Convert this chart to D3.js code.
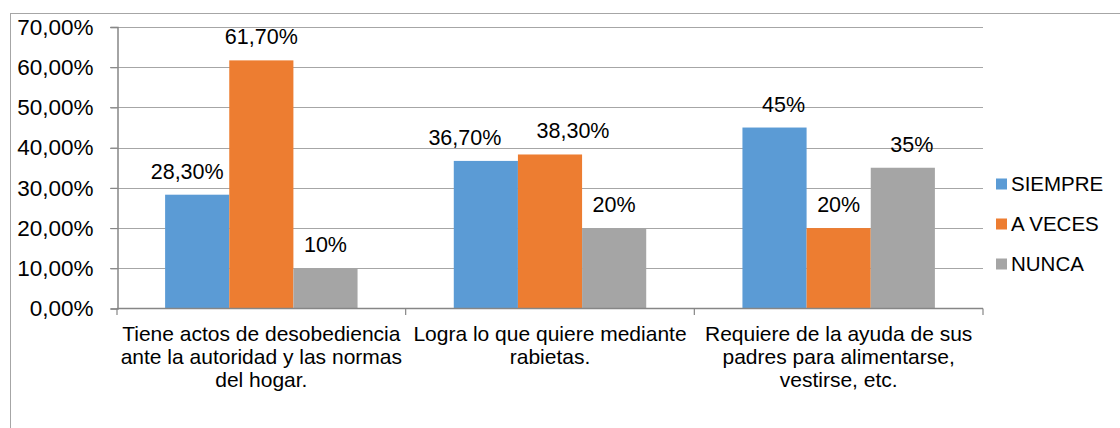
<!DOCTYPE html>
<html>
<head>
<meta charset="utf-8">
<script src="https://d3js.org/d3.v7.min.js"></script>
<style>
  body { margin: 0; background: #fff; }
  text { font-family: Arial, "Liberation Sans", sans-serif; fill: #000; }
</style>
</head>
<body>
<div id="chart"></div>
<script>
(function() {
  var width = 1120, height = 428;

  // datos
  var categorias = [
    ["Tiene actos de desobediencia", "ante la autoridad y las normas", "del hogar."],
    ["Logra lo que quiere mediante", "rabietas."],
    ["Requiere de la ayuda de sus", "padres para alimentarse,", "vestirse, etc."]
  ];
  var series = ["SIEMPRE", "A VECES", "NUNCA"];
  var siempre = [28.3, 36.7, 45];
  var aveces = [61.7, 38.3, 20];
  var nunca = [10, 20, 35];
  var etiquetas = [
    ["28,30%", "36,70%", "45%"],
    ["61,70%", "38,30%", "20%"],
    ["10%", "20%", "35%"]
  ];
  var ticksY = [0, 10, 20, 30, 40, 50, 60, 70];
  var colores = ["#5B9BD5", "#ED7D31", "#A5A5A5"];

  var valores = [siempre, aveces, nunca];

  // etiquetas que el original desplaza para que no se pisen
  var empuje = [[-10, -21, 9], [0, 23, 0], [0, 0, 9]];

  var svg = d3.select("#chart").append("svg")
              .attr("width", width)
              .attr("height", height);

  // borde del grafico
  svg.append("rect")
     .attr("x", 10.5).attr("y", 13.5)
     .attr("width", 1120).attr("height", 500)
     .attr("fill", "none")
     .attr("stroke", "#A6A6A6");

  var x0 = d3.scaleBand().domain(d3.range(categorias.length)).range([117, 983]);
  var x1 = d3.scaleBand().domain(d3.range(series.length))
             .range([0, x0.bandwidth()]).paddingOuter(0.75).paddingInner(0);
  var y = d3.scaleLinear().domain([0, 70]).range([308.5, 27]);

  // lineas de division
  svg.append("g").selectAll("line")
     .data(ticksY.slice(1))
     .enter().append("line")
     .attr("x1", 110).attr("x2", 983)
     .attr("y1", function(d){ return Math.round(y(d)) + 0.5; })
     .attr("y2", function(d){ return Math.round(y(d)) + 0.5; })
     .attr("stroke", "#A6A6A6").attr("stroke-width", 1.2);

  // eje Y
  var ejeY = svg.append("g").attr("transform", "translate(117.5,0)")
     .call(d3.axisLeft(y).tickValues(ticksY).tickSize(7).tickPadding(17)
       .tickFormat(function(d){ return d3.format(".2f")(d).replace(".", ",") + "%"; }));
  ejeY.select(".domain").attr("stroke", "#868686").attr("stroke-width", 1.5);
  ejeY.selectAll(".tick line").attr("stroke", "#868686").attr("stroke-width", 1.2);
  ejeY.selectAll(".tick text").style("font-size", "22.5px").attr("fill", "#000");

  // barras
  var grupos = svg.append("g").selectAll("g")
     .data(valores)
     .enter().append("g")
     .attr("fill", function(d, i){ return colores[i]; });

  grupos.each(function(serie, si) {
    d3.select(this).selectAll("rect")
      .data(serie)
      .enter().append("rect")
      .attr("x", function(d, ci){ return x0(ci) + x1(si); })
      .attr("width", x1.bandwidth())
      .attr("y", function(d){ return y(d); })
      .attr("height", function(d){ return y(0) - y(d); });

    d3.select(this).selectAll("text")
      .data(serie)
      .enter().append("text")
      .attr("x", function(d, ci){ return x0(ci) + x1(si) + x1.bandwidth() / 2 + empuje[si][ci]; })
      .attr("y", function(d){ return y(d) - 16; })
      .attr("text-anchor", "middle")
      .style("font-size", "21.5px")
      .text(function(d, ci){ return etiquetas[si][ci]; });
  });

  // eje X
  var ejeX = svg.append("g");
  ejeX.append("line")
     .attr("x1", 117).attr("x2", 983)
     .attr("y1", 308.5).attr("y2", 308.5)
     .attr("stroke", "#868686").attr("stroke-width", 1.5);
  ejeX.selectAll(".tic")
     .data(d3.range(categorias.length + 1))
     .enter().append("line")
     .attr("x1", function(d){ return d < categorias.length ? x0(d) : x0.range()[1]; })
     .attr("x2", function(d){ return d < categorias.length ? x0(d) : x0.range()[1]; })
     .attr("y1", 308.5).attr("y2", 315)
     .attr("stroke", "#868686").attr("stroke-width", 1.2);

  ejeX.selectAll(".cat")
     .data(categorias)
     .enter().append("text")
     .attr("text-anchor", "middle")
     .style("font-size", "21px")
     .each(function(lineas, ci) {
       d3.select(this).selectAll("tspan")
         .data(lineas)
         .enter().append("tspan")
         .attr("x", x0(ci) + x0.bandwidth() / 2)
         .attr("y", function(d, li){ return 340.5 + li * 23.3; })
         .text(function(d){ return d; });
     });

  // leyenda
  var leyenda = svg.append("g").selectAll("g")
     .data(series)
     .enter().append("g")
     .attr("transform", function(d, i){ return "translate(996," + (184 + i * 40) + ")"; });
  leyenda.append("rect")
     .attr("x", 0).attr("y", -5.5)
     .attr("width", 11).attr("height", 11)
     .attr("fill", function(d, i){ return colores[i]; });
  leyenda.append("text")
     .attr("x", 15).attr("y", 0).attr("dy", "0.35em")
     .style("font-size", "20.5px")
     .text(function(d){ return d; });

})();
</script>
</body>
</html>
